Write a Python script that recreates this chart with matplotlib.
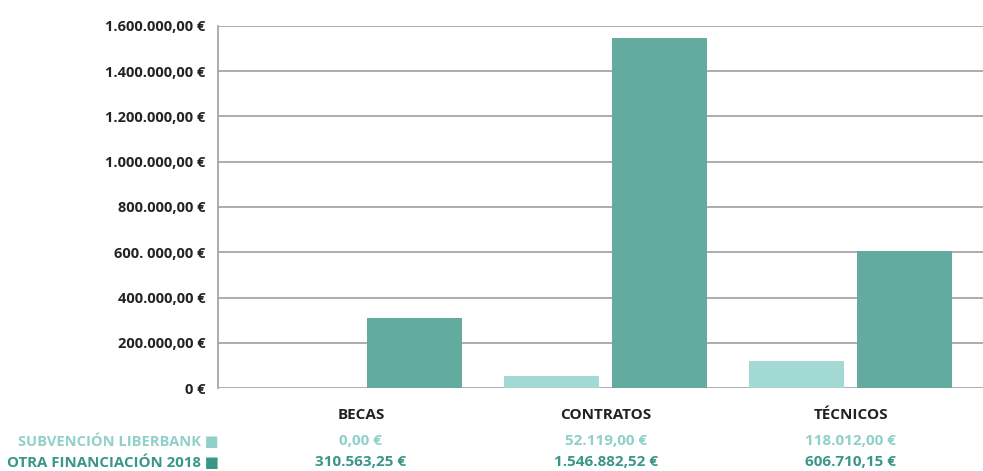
import numpy as np
import matplotlib
matplotlib.use("Agg")
import matplotlib.pyplot as plt
import matplotlib.transforms as mtransforms

# datos
categorias = ["BECAS", "CONTRATOS", "TÉCNICOS"]
subvencion = [0.00, 52119.00, 118012.00]
otra_fin = [310563.25, 1546882.52, 606710.15]
subvencion_txt = ["0,00 €", "52.119,00 €", "118.012,00 €"]
otra_fin_txt = ["310.563,25 €", "1.546.882,52 €", "606.710,15 €"]
ticks = [0, 200000, 400000, 600000, 800000, 1000000, 1200000, 1400000, 1600000]
tick_labels = ["0 €", "200.000,00 €", "400.000,00 €", "600. 000,00 €", "800.000,00 €",
               "1.000.000,00 €", "1.200.000,00 €", "1.400.000,00 €", "1.600.000,00 €"]

claro = "#a3d9d3"
oscuro = "#63aa9f"
claro_txt = "#8fd1c8"
oscuro_txt = "#3a9787"
gris = "#a6a6a6"

plt.rcParams['font.family'] = ['Open Sans', 'DejaVu Sans']

fig = plt.figure(figsize=(9.83, 4.71), dpi=100)
ax = fig.add_axes([218/983, 83/471, 765/983, 362/471])

x = np.arange(len(categorias))
w = 0.388
ax.bar(x - 0.22, subvencion, w, color=claro, zorder=3)
ax.bar(x + 0.22, otra_fin, w, color=oscuro, zorder=3)

ax.set_xlim(-0.584, 2.541)
ax.set_ylim(0, 1600000)
ax.set_yticks(ticks)
ax.set_yticklabels(tick_labels, fontsize=10.5, fontweight="bold", color="#222222")
ax.tick_params(axis="y", length=0, pad=9)
ax.set_xticks([])
ax.grid(axis="y", color=gris, linewidth=1.3, zorder=0)
for s in ["top", "right", "bottom"]:
    ax.spines[s].set_visible(False)
ax.spines["left"].set_color(gris)
ax.spines["left"].set_linewidth(1.3)
ax.set_axisbelow(True)

#tabla debajo
trans = mtransforms.blended_transform_factory(ax.transData, fig.transFigure)
for i, c in enumerate(categorias):
    ax.text(x[i], 1 - 415/471, c, transform=trans, ha="center", va="center",
            fontsize=11, fontweight="bold", color="#222222")
    ax.text(x[i], 1 - 441/471, subvencion_txt[i], transform=trans, ha="center", va="center",
            fontsize=11, fontweight="bold", color=claro_txt)
    ax.text(x[i], 1 - 462/471, otra_fin_txt[i], transform=trans, ha="center", va="center",
            fontsize=11, fontweight="bold", color=oscuro_txt)

fig.text(219/983, 1 - 441/471, "SUBVENCIÓN LIBERBANK ■", ha="right", va="center",
         fontsize=10.5, fontweight="bold", color=claro_txt)
fig.text(219/983, 1 - 462/471, "OTRA FINANCIACIÓN 2018 ■", ha="right", va="center",
         fontsize=10.8, fontweight="bold", color=oscuro_txt)

plt.savefig("out.png", dpi=100)
